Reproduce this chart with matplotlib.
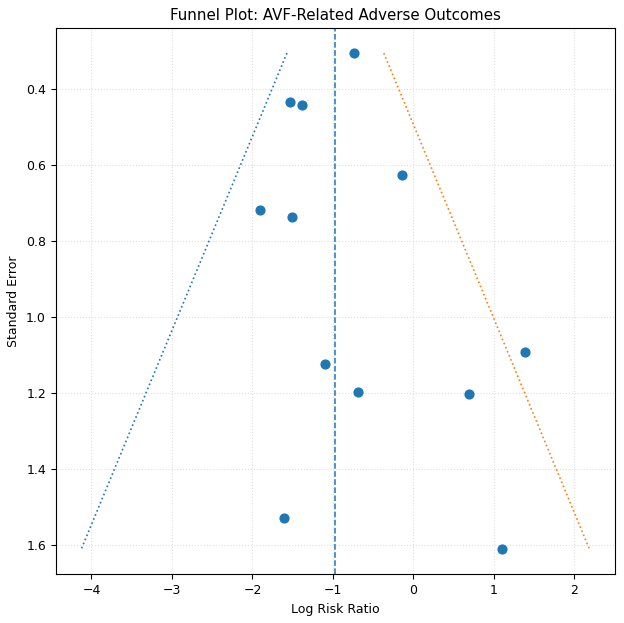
import numpy as np
import matplotlib
matplotlib.use("Agg")
import matplotlib.pyplot as plt

log_rr = [-0.738, -1.53, -1.39, -0.139, -1.906, -1.51, 1.386, -1.104, -0.693, 0.693, -1.614, 1.094]
se = [0.307, 0.436, 0.443, 0.626, 0.719, 0.737, 1.093, 1.125, 1.198, 1.202, 1.528, 1.611]
pooled = -0.97

plt.rcParams["font.size"] = 9
fig, ax = plt.subplots(figsize=(6.24, 6.23), dpi=100)
fig.subplots_adjust(left=0.0893, right=0.9856, top=0.9546, bottom=0.0782)
ax.scatter(log_rr, se, color="#1f77b4", s=40, zorder=3)
ax.axvline(pooled, color="#1f77b4", linestyle="--", linewidth=1.1)
se_line = np.linspace(min(se), max(se), 100)
ax.plot(pooled - 1.96 * se_line, se_line, linestyle=":", color="#1f77b4", linewidth=1.2)
ax.plot(pooled + 1.96 * se_line, se_line, linestyle=":", color="#ff7f0e", linewidth=1.2)
ax.invert_yaxis()
ax.set_xlabel("Log Risk Ratio", fontsize=9)
ax.set_ylabel("Standard Error", fontsize=9)
ax.set_title("Funnel Plot: AVF-Related Adverse Outcomes", fontsize=10.8)
ax.grid(True, linestyle=":", alpha=0.4)
fig.savefig("out.png")
